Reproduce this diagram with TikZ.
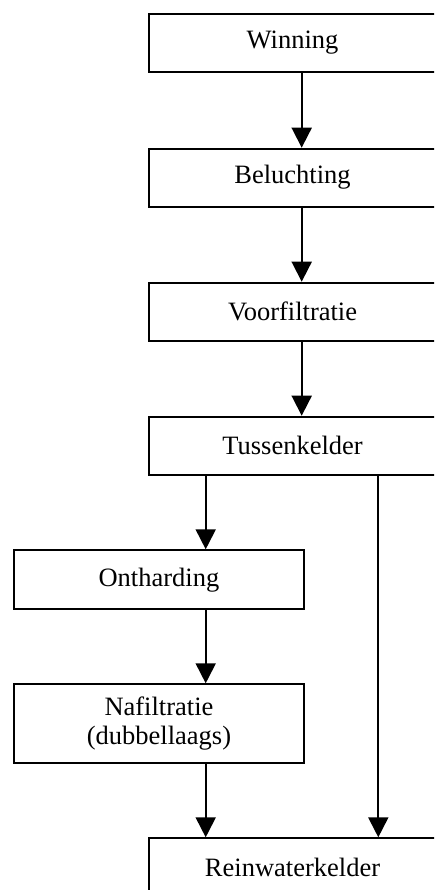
\documentclass[tikz,border=0pt]{standalone}
\usepackage{fontspec}
\setmainfont{Liberation Serif}
\usetikzlibrary{arrows.meta}
\begin{document}
\begin{tikzpicture}[x=1pt,y=1pt,
  stepbox/.style={draw,line width=1.9pt,rectangle,inner sep=0pt,anchor=north west,
    font=\fontsize{26.5}{29.5}\selectfont,align=center},
  mainbox/.style={stepbox,minimum width=287.8pt,minimum height=58pt},
  sidebox/.style={stepbox,minimum width=289.4pt},
  flow/.style={line width=1.9pt,-{Triangle[length=20pt,width=20pt]}}]
  \useasboundingbox (0,0) rectangle (434,-890);
  \clip (0,0) rectangle (434,-890);

  % main column
  \node[mainbox] (win) at (147.7,-12.7) {Winning};
  \node[mainbox] (bel) at (147.7,-147.7) {Beluchting};
  \node[mainbox] (voor) at (147.7,-281.7) {Voorfiltratie};
  \node[mainbox] (tus) at (147.7,-415.7) {Tussenkelder};
  \node[mainbox] (rein) at (147.7,-837.3) {Reinwaterkelder};

  % softening branch
  \node[sidebox,minimum height=59pt] (ont) at (13.3,-549.3) {Ontharding};
  \node[sidebox,minimum height=78.4pt] (naf) at (13.3,-683.3) {Nafiltratie\\(dubbellaags)};

  % vertical axes of the connectors
  \coordinate (ax) at (301.7,0);
  \coordinate (bx) at (205.7,0);
  \coordinate (cx) at (378.3,0);

  \draw[flow] (win.south -| ax) -- (bel.north -| ax);
  \draw[flow] (bel.south -| ax) -- (voor.north -| ax);
  \draw[flow] (voor.south -| ax) -- (tus.north -| ax);
  \draw[flow] (tus.south -| bx) -- (ont.north -| bx);
  \draw[flow] (ont.south -| bx) -- (naf.north -| bx);
  \draw[flow] (naf.south -| bx) -- (rein.north -| bx);
  \draw[flow] (tus.south -| cx) -- (rein.north -| cx);
\end{tikzpicture}
\end{document}
